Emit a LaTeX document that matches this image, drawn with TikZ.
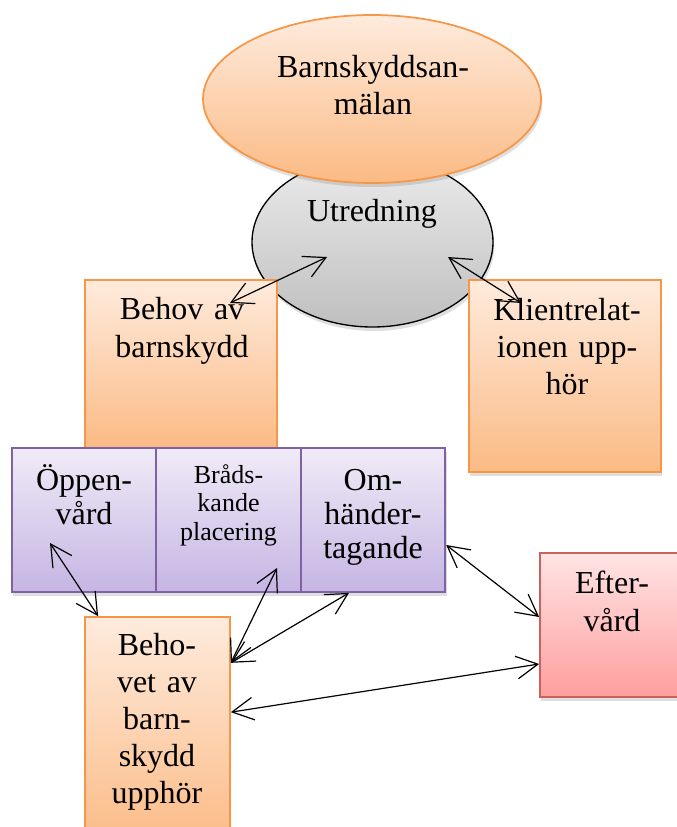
\documentclass[tikz,border=0pt]{standalone}
\usepackage{fontspec}
\setmainfont{Liberation Serif}
\usetikzlibrary{shapes.geometric, arrows.meta, shadows}

\definecolor{peachline}{HTML}{F79646}
\definecolor{peachtop}{HTML}{FEEBDD}
\definecolor{peachbot}{HTML}{FBBA84}
\definecolor{lilacline}{HTML}{7F62A1}
\definecolor{lilactop}{HTML}{F0EBF7}
\definecolor{lilacbot}{HTML}{C5B5E3}
\definecolor{greytop}{HTML}{EBEBEB}
\definecolor{greybot}{HTML}{BFBFBF}
\definecolor{roseline}{HTML}{C8625F}
\definecolor{rosetop}{HTML}{FFE4E4}
\definecolor{rosebot}{HTML}{FF9E9E}

\tikzset{
  shapebase/.style = {line width=1.3pt, inner sep=0pt,
    drop shadow={opacity=0.25, shadow xshift=1pt, shadow yshift=-3pt}},
  peach oval/.style = {shapebase, ellipse, draw=peachline, top color=peachtop, bottom color=peachbot},
  grey oval/.style = {shapebase, ellipse, line width=1pt, draw=black, top color=greytop, bottom color=greybot},
  peach box/.style = {shapebase, rectangle, draw=peachline, top color=peachtop, bottom color=peachbot},
  lilac box/.style = {shapebase, rectangle, draw=lilacline, top color=lilactop, bottom color=lilacbot,
    minimum width=108.5pt, minimum height=108pt},
  rose box/.style = {shapebase, rectangle, draw=roseline, top color=rosetop, bottom color=rosebot},
  txt/.style = {anchor=base, align=center, text width=200pt, inner sep=0pt},
  link/.style = {<->, line width=0.9pt}
}

\begin{document}
\begin{tikzpicture}[x=0.75pt, y=-0.75pt, >={Straight Barb[length=16pt, width=17pt]}]
\useasboundingbox (0,0) rectangle (676,827);

% the big shapes
\node[grey oval, minimum width=180.75pt, minimum height=127.5pt] (utr) at (372.5,242) {};
\node[peach box, minimum width=144pt, minimum height=127.5pt] (behov) at (181,365) {};
\node[peach box, minimum width=144pt, minimum height=144pt] (klient) at (565,376) {};
\node[peach oval, minimum width=253.5pt, minimum height=126pt] (anm) at (372,99) {};
\node[lilac box] (oppen) at (84,520) {};
\node[lilac box] (brads) at (228.5,520) {};
\node[lilac box] (omh) at (373,520) {};
\node[rose box, minimum width=112.5pt, minimum height=108pt] (eft) at (615,625) {};
\node[peach box, minimum width=108.75pt, minimum height=174.75pt] (slut) at (157.5,733.5) {};

% texts
\node[txt, font=\fontsize{24}{27.75}\selectfont] (anm-t) at (373,78) {Barnskyddsan-\\mälan};
\node[txt, font=\fontsize{24}{28}\selectfont] (utr-t) at (372,222) {Utredning};
\node[txt, font=\fontsize{24}{28.5}\selectfont] (behov-t) at (182,319) {Behov av\\barnskydd};
\node[txt, font=\fontsize{24}{27.75}\selectfont] (klient-t) at (567,320) {Klientrelat-\\ionen upp-\\hör};
\node[txt, font=\fontsize{24}{25.7}\selectfont] (oppen-t) at (84,490) {Öppen-\\vård};
\node[txt, font=\fontsize{19.5}{21.5}\selectfont] (brads-t) at (228.5,483) {Bråds-\\kande\\placering};
\node[txt, font=\fontsize{24}{25.7}\selectfont] (omh-t) at (373,490) {Om-\\händer-\\tagande};
\node[txt, font=\fontsize{24}{28.5}\selectfont] (eft-t) at (612,593) {Efter-\\vård};
\node[txt, font=\fontsize{24}{27.75}\selectfont] (slut-t) at (157,655) {Beho-\\vet av\\barn-\\skydd\\upphör};

% arrow ends inside the shapes
\coordinate (b1) at (230,303);
\coordinate (u1) at (327,257);
\coordinate (u2) at (448,257);
\coordinate (k1) at (521,303);
\coordinate (o1) at (50,543);
\coordinate (br1) at (277,568);

\draw[link] (b1) -- (u1);
\draw[link] (u2) -- (k1);
\draw[link] (o1) -- ([xshift=10.5pt]slut.north west);
\draw[link] (br1) -- ([yshift=53pt]slut.east);
\draw[link] ([xshift=-18pt]omh.south) -- ([yshift=53pt]slut.east);
\draw[link] ([yshift=-18.75pt]omh.east) -- ([yshift=6pt]eft.west);
\draw[link] ([yshift=16pt]slut.east) -- ([yshift=-29.25pt]eft.west);
\end{tikzpicture}
\end{document}
